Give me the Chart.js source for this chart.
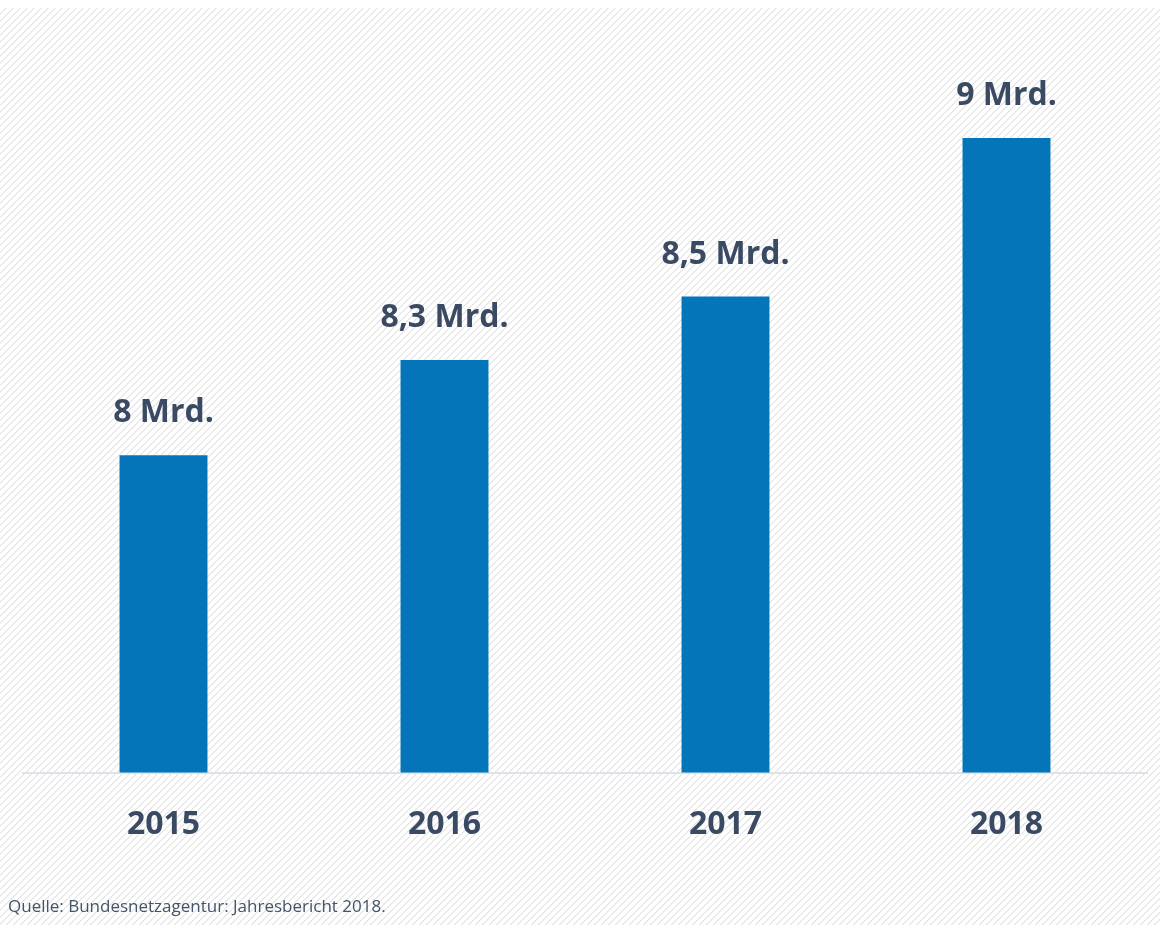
<!DOCTYPE html>
<html>
<head>
<meta charset="utf-8">
<script src="https://cdn.jsdelivr.net/npm/chart.js@4/dist/chart.umd.min.js"></script>
<style>
  html, body { margin: 0; padding: 0; background: #ffffff; }
  body { width: 1160px; height: 925px; position: relative; overflow: hidden; }
  #wrap { position: absolute; left: 0; top: 0; width: 1160px; height: 925px; }
  #quelle {
    position: absolute;
    left: 8px;
    top: 894px;
    font-family: "Open Sans", sans-serif;
    font-size: 17px;
    color: #44546a;
    white-space: nowrap;
  }
</style>
</head>
<body>
<div id="wrap"><canvas id="chart" width="1160" height="925"></canvas></div>
<div id="quelle">Quelle: Bundesnetzagentur: Jahresbericht 2018.</div>
<script>
// Daten
const jahre = ["2015", "2016", "2017", "2018"];
const werte = [8, 8.3, 8.5, 9];
const beschriftungen = ["8 Mrd.", "8,3 Mrd.", "8,5 Mrd.", "9 Mrd."];

const textFarbe = "#3b4a63";
const balkenFarbe = "#0475b9";

// Schraffierter Hintergrund (diagonale Linien)
function schraffurMuster(ctx) {
  const n = 7;
  const tile = document.createElement("canvas");
  tile.width = n;
  tile.height = n;
  const tctx = tile.getContext("2d");
  const img = tctx.createImageData(n, n);
  for (let y = 0; y < n; y++) {
    for (let x = 0; x < n; x++) {
      const d = (x + y) % n;
      let c = 255;
      if (d === n - 1) c = 226;
      else if (d === 0) c = 241;
      const k = (y * n + x) * 4;
      img.data[k] = c;
      img.data[k + 1] = c;
      img.data[k + 2] = c;
      img.data[k + 3] = 255;
    }
  }
  tctx.putImageData(img, 0, 0);
  return ctx.createPattern(tile, "repeat");
}

const hintergrund = {
  id: "hintergrund",
  beforeDraw(chart) {
    const ctx = chart.ctx;
    ctx.save();
    ctx.fillStyle = "#ffffff";
    ctx.fillRect(0, 0, chart.width, chart.height);
    ctx.fillStyle = schraffurMuster(ctx);
    ctx.fillRect(0, 8, chart.width, chart.height - 8);
    ctx.restore();
  }
};

// Werte über den Balken zeichnen
const wertLabels = {
  id: "wertLabels",
  afterDatasetsDraw(chart) {
    const ctx = chart.ctx;
    const meta = chart.getDatasetMeta(0);
    ctx.save();
    ctx.font = "bold 32px 'Open Sans', sans-serif";
    ctx.fillStyle = textFarbe;
    ctx.textAlign = "center";
    ctx.textBaseline = "middle";
    meta.data.forEach((bar, i) => {
      ctx.fillText(beschriftungen[i], bar.x, bar.y - 42);
    });
    ctx.restore();
  }
};

new Chart(document.getElementById("chart"), {
  type: "bar",
  data: {
    labels: jahre,
    datasets: [{
      data: werte,
      backgroundColor: balkenFarbe,
      borderWidth: 0,
      barPercentage: 0.313,
      categoryPercentage: 1
    }]
  },
  options: {
    responsive: false,
    animation: false,
    layout: { padding: { left: 23, right: 13, top: 11, bottom: 56 } },
    plugins: {
      legend: { display: false },
      tooltip: { enabled: false }
    },
    scales: {
      x: {
        grid: { display: false },
        border: { display: true, color: "#dde3ea", width: 2 },
        ticks: {
          color: textFarbe,
          padding: 25,
          font: { family: "'Open Sans', sans-serif", size: 32, weight: "bold" }
        }
      },
      y: {
        display: false,
        min: 7,
        max: 9.4
      }
    }
  },
  plugins: [hintergrund, wertLabels]
});
</script>
</body>
</html>
